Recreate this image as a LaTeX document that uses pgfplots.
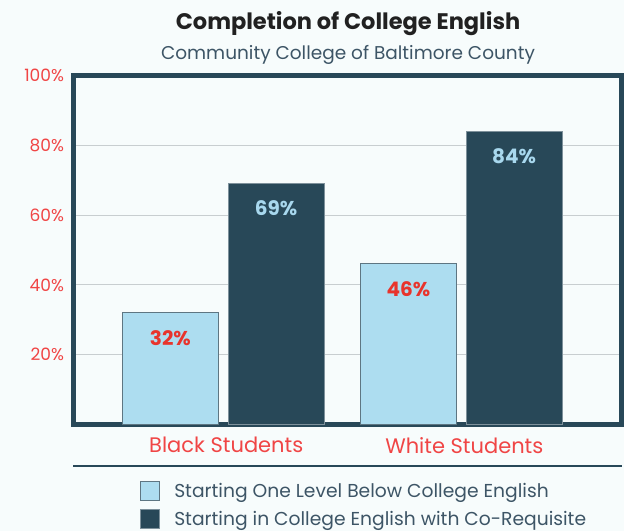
\documentclass[border=0pt]{standalone}
\usepackage{pgfplots}
\pgfplotsset{compat=1.18}
\usepackage{fontspec}
\setmainfont{Poppins}
\definecolor{bg}{HTML}{F7FCFC}
\definecolor{frame}{HTML}{284858}
\definecolor{light}{HTML}{ADDDF0}
\definecolor{redt}{HTML}{F04545}
\definecolor{redb}{HTML}{E8342C}
\definecolor{sub}{HTML}{3D5566}
\definecolor{gridc}{HTML}{C8CED0}
\definecolor{lbl}{HTML}{A8D8EE}
\begin{document}
\begin{tikzpicture}
\fill[bg] (0,0) rectangle (624bp,531bp);
\useasboundingbox (0,0) rectangle (624bp,531bp);
\node[font=\fontsize{22.5bp}{24bp}\selectfont\bfseries, text=black!87, anchor=base] at (348bp,501bp) {Completion of College English};
\node[font=\fontsize{18.5bp}{20bp}\selectfont, text=sub, anchor=base] at (348bp,471bp) {Community College of Baltimore County};
\begin{axis}[
  ybar,
  at={(73.5bp,106.3bp)}, anchor=south west,
  scale only axis, width=548bp, height=349.4bp,
  xmin=-0.629, xmax=1.673, ymin=0, ymax=100,
  axis line style={line width=5bp, frame},
  axis background/.style={fill=bg},
  xtick={0,1}, xticklabels={Black Students, White Students},
  ytick={20,40,60,80,100}, yticklabels={20\%,40\%,60\%,80\%,100\%},
  major tick length=0pt,
  ymajorgrids, grid style={gridc, line width=1bp},
  tick label style={text=redt},
  yticklabel style={font=\fontsize{17bp}{19bp}\selectfont, xshift=-6bp},
  xticklabel style={font=\fontsize{21bp}{23bp}\selectfont, yshift=-9bp, xshift=3bp},
  bar width=0.401,
  legend style={draw=none, fill=none, at={(axis description cs:0.116,-0.155)}, anchor=north west,
    font=\fontsize{18.7bp}{20bp}\selectfont, text=sub, row sep=8bp,
    nodes={inner sep=0pt}, cells={anchor=west},
    /tikz/every odd column/.append style={column sep=14bp}},
  legend cell align=left,
  legend image code/.code={\draw[#1] (0bp,-9.5bp) rectangle (19bp,9.5bp);},
  nodes near coords={\pgfmathprintnumber[assume math mode=true]{\pgfplotspointmeta}\%},
  every node near coord/.append style={anchor=center, yshift=-25bp, font=\fontsize{20bp}{22bp}\selectfont\bfseries},
]
\addplot[bar shift=-0.222, fill=light, draw=frame!75, line width=1bp,
  every node near coord/.append style={text=redb}] coordinates {(0,32) (1,46)};
\addplot[bar shift=0.222, fill=frame, draw=frame!60, line width=0.6bp,
  every node near coord/.append style={text=lbl}] coordinates {(0,69) (1,84)};
\legend{Starting One Level Below College English, Starting in College English with Co-Requisite}
\end{axis}
\draw[frame, line width=2.5bp] (73bp,65bp) -- (622bp,65bp);
\end{tikzpicture}
\end{document}
